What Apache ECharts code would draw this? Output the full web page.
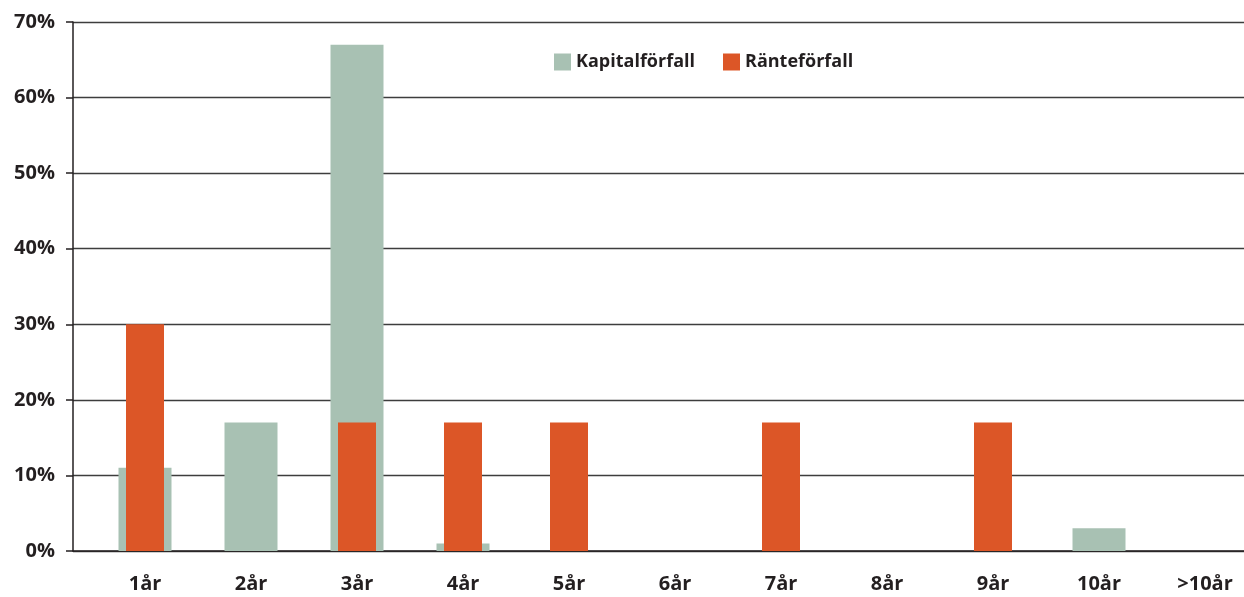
<!DOCTYPE html>
<html>
<head>
<meta charset="utf-8">
<script src="https://cdn.jsdelivr.net/npm/echarts@6/dist/echarts.min.js"></script>
<style>
  html, body { margin: 0; padding: 0; background: #fff; }
  #chart { width: 1244px; height: 597px; }
</style>
</head>
<body>
<div id="chart"></div>
<script>
var categories = ['1år', '2år', '3år', '4år', '5år', '6år', '7år', '8år', '9år', '10år', '>10år']
var kapital = [11, 17, 67, 1, 0, 0, 0, 0, 0, 3, 0]
var ranta = [30, 0, 17, 17, 17, 0, 17, 0, 17, 0, 0]
var yTicks = [0, 70, 10]

var textColor = '#231f20'
var fontFam = '"Open Sans", "Noto Sans", sans-serif'

var mychart = echarts.init(document.getElementById('chart'))
var option = {
  animation: false,
  legend: {
    left: 549,
    top: 48,
    itemWidth: 17,
    itemHeight: 17,
    itemGap: 28,
    icon: 'rect',
    textStyle: { color: textColor, fontSize: 18, fontWeight: 'bold', fontFamily: fontFam },
    data: ['Kapitalförfall', 'Ränteförfall']
  },
  grid: [
    // bars, the last band runs past the right edge
    { left: 92, width: 1166, top: 22, bottom: 46, outerBoundsMode: 'none', containLabel: false },
    // y axis + gridlines
    { left: 73, right: 0, top: 22, bottom: 46, outerBoundsMode: 'none' }
  ],
  xAxis: [
    {
      type: 'category',
      gridIndex: 0,
      data: categories,
      axisLine: { show: false },
      axisTick: { show: false },
      axisLabel: { color: textColor, fontSize: 20, fontWeight: 'bold', fontFamily: fontFam, margin: 23, interval: 0 }
    },
    {
      type: 'category',
      gridIndex: 0,
      data: categories,
      show: false
    },
    {
      type: 'value',
      gridIndex: 1,
      min: 0,
      max: 1,
      axisLine: { show: true, onZero: false, lineStyle: { color: textColor, width: 1.5 } },
      axisTick: { show: false },
      axisLabel: { show: false },
      splitLine: { show: false }
    }
  ],
  yAxis: [
    {
      type: 'value',
      gridIndex: 0,
      min: yTicks[0],
      max: yTicks[1],
      interval: yTicks[2],
      show: false,
      splitLine: { show: false }
    },
    {
      type: 'value',
      gridIndex: 1,
      min: yTicks[0],
      max: yTicks[1],
      interval: yTicks[2],
      axisLine: { show: true, lineStyle: { color: textColor, width: 1.5 } },
      axisTick: { show: true, length: 7, lineStyle: { color: textColor, width: 1.5 } },
      axisLabel: {
        color: textColor, fontSize: 20, fontWeight: 'bold', fontFamily: fontFam, margin: 18,
        formatter: '{value}%'
      },
      splitLine: { show: true, lineStyle: { color: '#3d3d3d', width: 1.3 } }
    }
  ],
  series: [
    {
      name: 'Kapitalförfall',
      type: 'bar',
      xAxisIndex: 0,
      yAxisIndex: 0,
      barWidth: 53,
      itemStyle: { color: '#a8c1b3' },
      data: kapital
    },
    {
      name: 'Ränteförfall',
      type: 'bar',
      xAxisIndex: 1,
      yAxisIndex: 0,
      barWidth: 38,
      itemStyle: { color: '#dc5627' },
      data: ranta
    }
  ]
}
mychart.setOption(option)
</script>
</body>
</html>
